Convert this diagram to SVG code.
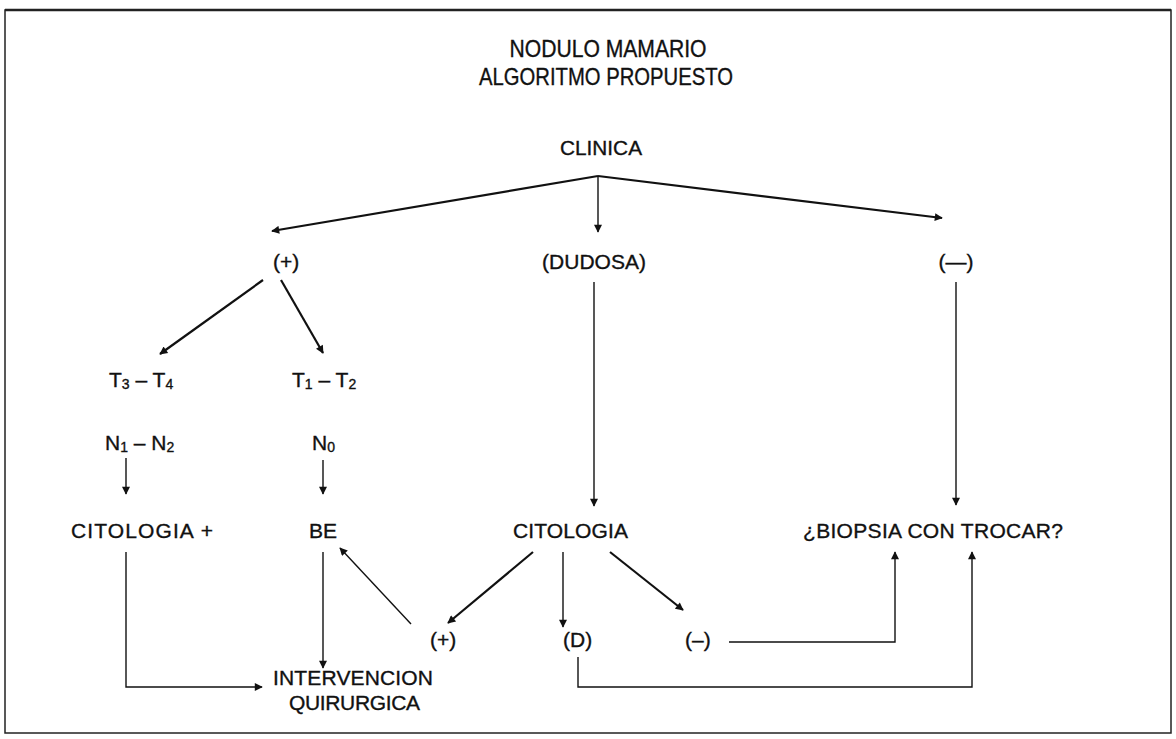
<svg xmlns="http://www.w3.org/2000/svg" width="1176" height="739" viewBox="0 0 1176 739">
<style>
text{font-family:"Liberation Sans",Arial,sans-serif;fill:#111;font-size:21px;stroke:#111;stroke-width:0.35}
.c{text-anchor:middle}
.ttl{font-size:24px}
.ln{stroke:#111;stroke-width:1.4;fill:none}
.th{stroke-width:2.2}
.sub{font-size:14px}
</style>
<defs>
<marker id="ah" viewBox="0 0 10 10" refX="9" refY="5" markerWidth="10" markerHeight="8" markerUnits="userSpaceOnUse" orient="auto">
<path d="M0,0 L10,5 L0,10 z" fill="#111"/>
</marker>
</defs>
<rect x="0" y="0" width="1176" height="739" fill="#fff"/>
<rect x="5" y="10" width="1166" height="723" fill="none" stroke="#222" stroke-width="1.5"/>
<line x1="5" y1="10" x2="1171" y2="10" stroke="#222" stroke-width="2.5"/>

<g id="title">
<text class="c ttl" x="608" y="57" textLength="197" lengthAdjust="spacingAndGlyphs">NODULO MAMARIO</text>
<text class="c ttl" x="606" y="85" textLength="254" lengthAdjust="spacingAndGlyphs">ALGORITMO PROPUESTO</text>
</g>
<g id="clinica"><text x="560" y="155" textLength="82" lengthAdjust="spacingAndGlyphs">CLINICA</text></g>
<g id="pos1"><text x="273" y="269">(+)</text></g>
<g id="dudosa"><text class="c" x="594" y="269">(DUDOSA)</text></g>
<g id="neg1"><text class="c" x="956" y="269">(—)</text></g>
<g id="t34"><text x="109" y="387">T<tspan class="sub" dy="2">3</tspan><tspan dy="-2"> – T</tspan><tspan class="sub" dy="2">4</tspan></text></g>
<g id="t12"><text x="292" y="387">T<tspan class="sub" dy="2">1</tspan><tspan dy="-2"> – T</tspan><tspan class="sub" dy="2">2</tspan></text></g>
<g id="n12"><text x="105" y="450">N<tspan class="sub" dy="2">1</tspan><tspan dy="-2"> – N</tspan><tspan class="sub" dy="2">2</tspan></text></g>
<g id="n0"><text x="312" y="450">N<tspan class="sub" dy="2">0</tspan></text></g>
<g id="citpos"><text x="71" y="538" textLength="142" lengthAdjust="spacing">CITOLOGIA +</text></g>
<g id="be"><text class="c" x="323" y="538">BE</text></g>
<g id="citologia"><text x="513" y="538" textLength="115" lengthAdjust="spacing">CITOLOGIA</text></g>
<g id="biopsia"><text x="803" y="538" textLength="260" lengthAdjust="spacing">¿BIOPSIA CON TROCAR?</text></g>
<g id="pos2"><text x="430" y="647">(+)</text></g>
<g id="dd"><text x="563" y="647">(D)</text></g>
<g id="neg2"><text x="685" y="647">(–)</text></g>
<g id="interv">
<text x="273" y="685" textLength="160" lengthAdjust="spacing">INTERVENCION</text>
<text x="289" y="710" textLength="131" lengthAdjust="spacing">QUIRURGICA</text>
</g>

<g id="connectors">
<line class="ln th" x1="598" y1="176" x2="272" y2="231" marker-end="url(#ah)"/>
<line class="ln" x1="598" y1="176" x2="598" y2="232" marker-end="url(#ah)"/>
<line class="ln th" x1="598" y1="176" x2="942" y2="218" marker-end="url(#ah)"/>
<line class="ln th" x1="263" y1="280" x2="160" y2="354" marker-end="url(#ah)"/>
<line class="ln th" x1="281" y1="280" x2="323" y2="353" marker-end="url(#ah)"/>
<line class="ln" x1="126" y1="458" x2="126" y2="494" marker-end="url(#ah)"/>
<line class="ln" x1="323" y1="460" x2="323" y2="494" marker-end="url(#ah)"/>
<line class="ln" x1="594" y1="282" x2="594" y2="506" marker-end="url(#ah)"/>
<line class="ln" x1="956" y1="282" x2="956" y2="505" marker-end="url(#ah)"/>
<polyline class="ln" points="126,552 126,687 262,687" marker-end="url(#ah)"/>
<line class="ln" x1="323" y1="552" x2="323" y2="668" marker-end="url(#ah)"/>
<line class="ln" x1="411" y1="624" x2="340" y2="548" marker-end="url(#ah)"/>
<line class="ln th" x1="533" y1="552" x2="448" y2="623" marker-end="url(#ah)"/>
<line class="ln" x1="563" y1="552" x2="563" y2="627" marker-end="url(#ah)"/>
<line class="ln th" x1="610" y1="552" x2="683" y2="610" marker-end="url(#ah)"/>
<polyline class="ln" points="729,642 895,642 895,552" marker-end="url(#ah)"/>
<polyline class="ln" points="578,657 578,687 972,687 972,552" marker-end="url(#ah)"/>
</g>
</svg>
